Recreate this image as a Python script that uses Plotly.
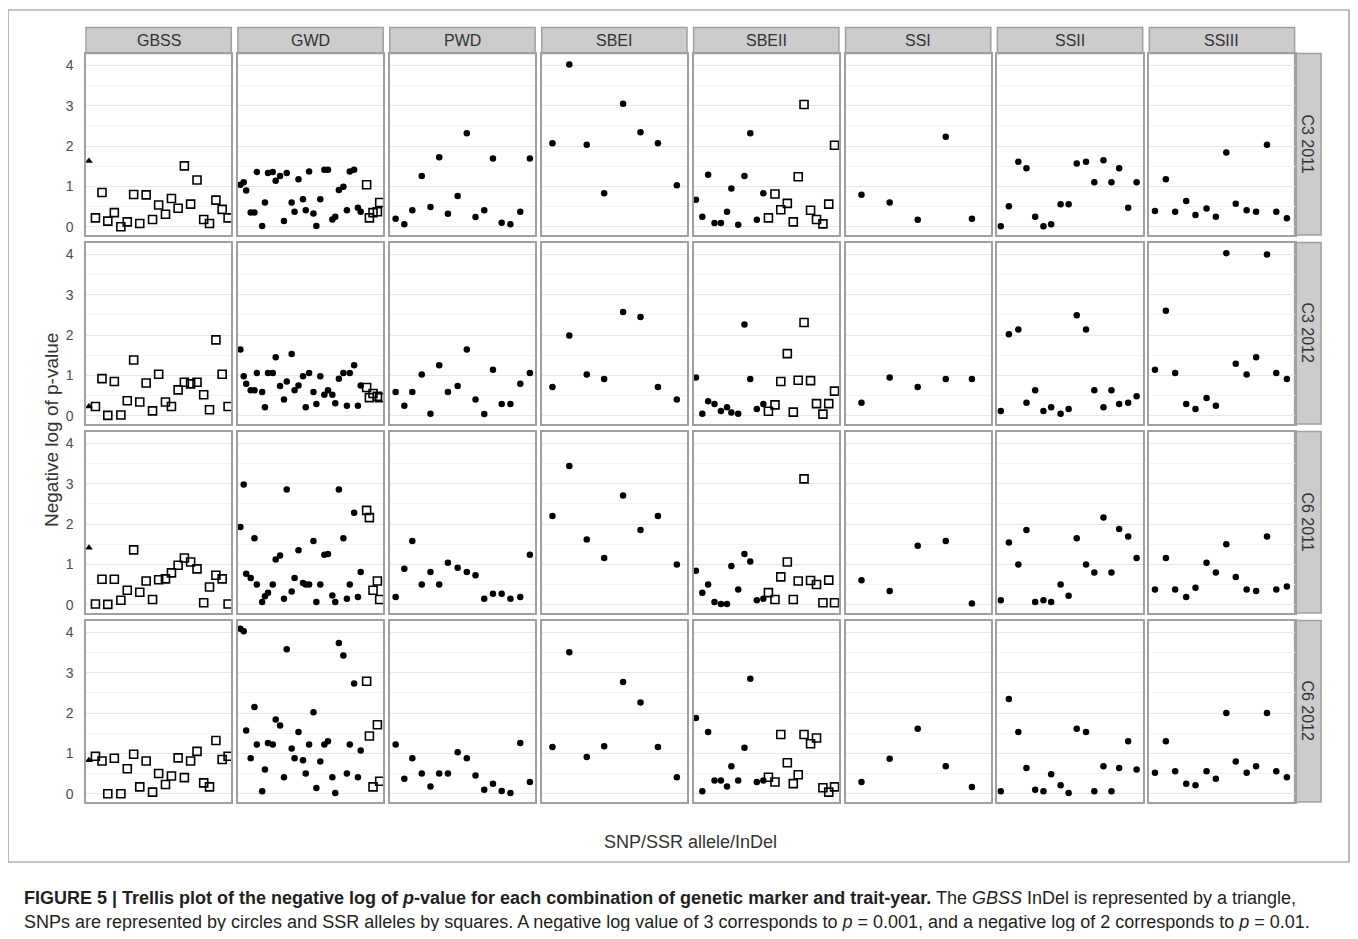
import plotly.graph_objects as go

# ---------------- data ----------------
genes = ["GBSS", "GWD", "PWD", "SBEI", "SBEII", "SSI", "SSII", "SSIII"]
trait_years = ["C3 2011", "C3 2012", "C6 2011", "C6 2012"]

# relative marker position along each gene (0-100 across the panel)
GBSS_pos = [2, 6.5, 11, 15, 19.5, 24, 28.4, 32.8, 37, 41.4, 45.8, 50, 54.7, 58.8, 63.4, 67.7, 72, 76.4, 81, 85, 89.4, 93.7, 97.8]
GWD_pos = [1.7, 4, 5.7, 8.8, 11.4, 13, 16.7, 18.6, 20.7, 24, 26, 29, 31.7, 33.6, 37, 39, 41.7, 44.8, 46.7, 49, 52, 54, 56.7,
           59.5, 62, 65, 67, 69.5, 72.6, 75, 77, 80, 82.6, 84.5, 88.6, 90.5, 93, 96, 97.6]
PWD_pos = [4, 10, 15.5, 22, 28, 34, 40, 46.7, 53, 59, 65, 71, 77, 83, 89.8, 96.4]
SBEI_pos = [7.4, 19, 31, 43, 56, 68, 80, 93]
SBEII_pos = [1.6, 6, 10, 14.4, 18.8, 23, 26, 30.7, 35, 39, 43.5, 48, 51.5, 56, 60, 64.5, 68.6, 72, 76, 80.5, 84.6, 89, 93, 97]
SSI_pos = [11, 30.4, 49.7, 69, 87]
SSII_pos = [2.3, 7.9, 14.4, 20, 26, 31.7, 37, 43.5, 49, 54.6, 61, 66.7, 73, 78.5, 83.8, 90, 95.8]
SSIII_pos = [3.9, 11.4, 17.8, 25.4, 31.8, 39.4, 45.8, 53, 59.5, 67, 73.5, 81, 87.4, 94.7]

# marker type of each position: InDel (triangle), SNP (circle), SSR (square)
GBSS_type = ["InDel"] + ["SSR"] * 22
GWD_type = ["SNP"] * 34 + ["SSR"] * 5
PWD_type = ["SNP"] * 16
SBEI_type = ["SNP"] * 8
SBEII_type = ["SNP"] * 12 + ["SSR"] * 12
SSI_type = ["SNP"] * 5
SSII_type = ["SNP"] * 17
SSIII_type = ["SNP"] * 14

# negative log p-values
GBSS_C3_2011 = [1.63, 0.22, 0.85, 0.14, 0.35, 0.00, 0.12, 0.80, 0.08, 0.79, 0.18, 0.54, 0.31, 0.70, 0.46, 1.51, 0.56, 1.16, 0.18, 0.08, 0.66, 0.43, 0.22]
GBSS_C3_2012 = [0.23, 0.23, 0.92, 0.01, 0.85, 0.02, 0.37, 1.38, 0.34, 0.81, 0.12, 1.03, 0.34, 0.23, 0.64, 0.83, 0.79, 0.83, 0.52, 0.15, 1.88, 1.03, 0.23]
GBSS_C6_2011 = [1.41, 0.02, 0.63, 0.01, 0.63, 0.11, 0.36, 1.36, 0.31, 0.59, 0.13, 0.62, 0.64, 0.79, 0.98, 1.16, 1.06, 0.89, 0.05, 0.44, 0.73, 0.64, 0.02]
GBSS_C6_2012 = [0.83, 0.93, 0.81, 0.00, 0.88, 0.00, 0.62, 0.98, 0.17, 0.81, 0.04, 0.50, 0.23, 0.44, 0.89, 0.40, 0.81, 1.05, 0.27, 0.17, 1.32, 0.85, 0.93]

GWD_C3_2011 = [1.04, 1.10, 0.90, 0.35, 0.35, 1.36, 0.02, 0.60, 1.33, 1.36, 1.14, 1.26, 0.14, 1.33, 0.60, 0.37, 1.18, 0.68, 0.41, 1.37,
               0.33, 0.02, 0.68, 1.41, 1.41, 0.18, 0.25, 0.91, 0.99, 0.41, 1.37, 1.41, 0.47, 0.37, 1.04, 0.22, 0.35, 0.37, 0.60]
GWD_C3_2012 = [1.64, 0.98, 0.79, 0.63, 0.63, 1.06, 0.59, 0.21, 1.06, 1.06, 1.45, 0.74, 0.40, 0.85, 1.53, 0.63, 0.75, 0.98, 0.21, 1.06,
               0.59, 0.29, 0.98, 0.52, 0.63, 0.52, 0.31, 0.92, 1.06, 0.25, 1.06, 1.25, 0.25, 0.75, 0.70, 0.45, 0.55, 0.48, 0.45]
GWD_C6_2011 = [1.93, 2.98, 0.77, 0.66, 1.65, 0.50, 0.07, 0.21, 0.30, 0.50, 1.12, 1.22, 0.15, 2.86, 0.33, 0.66, 1.35, 0.54, 0.50, 0.50,
               1.58, 0.07, 0.50, 1.24, 1.26, 0.23, 0.07, 2.86, 1.65, 0.15, 0.50, 2.28, 0.19, 0.81, 2.34, 2.16, 0.36, 0.59, 0.13]
GWD_C6_2012 = [4.09, 4.03, 1.57, 0.88, 2.15, 1.22, 0.06, 0.60, 1.26, 1.22, 1.84, 1.69, 0.41, 3.58, 1.12, 0.88, 1.53, 0.83, 0.50, 1.22,
               2.02, 0.14, 0.80, 1.22, 1.30, 0.41, 0.02, 3.74, 3.43, 0.50, 1.22, 2.73, 0.41, 1.07, 2.79, 1.43, 0.17, 1.71, 0.31]

PWD_C3_2011 = [0.20, 0.06, 0.41, 1.26, 0.49, 1.72, 0.32, 0.76, 2.32, 0.24, 0.41, 1.69, 0.10, 0.06, 0.37, 1.69]
PWD_C3_2012 = [0.59, 0.25, 0.59, 1.02, 0.05, 1.25, 0.59, 0.74, 1.64, 0.40, 0.04, 1.14, 0.29, 0.29, 0.79, 1.06]
PWD_C6_2011 = [0.19, 0.89, 1.58, 0.50, 0.81, 0.50, 1.04, 0.92, 0.81, 0.73, 0.15, 0.27, 0.27, 0.15, 0.19, 1.24]
PWD_C6_2012 = [1.22, 0.37, 0.88, 0.50, 0.18, 0.50, 0.50, 1.03, 0.88, 0.45, 0.10, 0.25, 0.07, 0.02, 1.26, 0.29]

SBEI_C3_2011 = [2.07, 4.02, 2.03, 0.83, 3.05, 2.34, 2.07, 1.03]
SBEI_C3_2012 = [0.71, 1.99, 1.02, 0.91, 2.57, 2.45, 0.71, 0.40]
SBEI_C6_2011 = [2.20, 3.44, 1.62, 1.16, 2.71, 1.85, 2.20, 1.00]
SBEI_C6_2012 = [1.16, 3.51, 0.91, 1.18, 2.77, 2.26, 1.16, 0.41]

SBEII_C3_2011 = [0.67, 0.25, 1.29, 0.09, 0.09, 0.37, 0.95, 0.05, 1.26, 2.32, 0.17, 0.83, 0.22, 0.81, 0.42, 0.58, 0.12, 1.24, 3.03, 0.41, 0.18, 0.07, 0.56, 2.02]
SBEII_C3_2012 = [0.95, 0.05, 0.36, 0.29, 0.12, 0.21, 0.08, 0.05, 2.26, 0.91, 0.17, 0.29, 0.11, 0.27, 0.85, 1.54, 0.09, 0.88, 2.31, 0.87, 0.30, 0.04, 0.30, 0.61]
SBEII_C6_2011 = [0.84, 0.30, 0.50, 0.07, 0.02, 0.02, 0.96, 0.38, 1.26, 1.07, 0.11, 0.15, 0.30, 0.13, 0.69, 1.06, 0.13, 0.59, 3.12, 0.60, 0.50, 0.05, 0.61, 0.05]
SBEII_C6_2012 = [1.88, 0.06, 1.53, 0.33, 0.33, 0.18, 0.68, 0.33, 1.14, 2.85, 0.29, 0.33, 0.41, 0.29, 1.47, 0.77, 0.25, 0.47, 1.47, 1.24, 1.38, 0.15, 0.04, 0.17]

SSI_C3_2011 = [0.79, 0.60, 0.17, 2.23, 0.20]
SSI_C3_2012 = [0.32, 0.95, 0.71, 0.91, 0.91]
SSI_C6_2011 = [0.61, 0.34, 1.46, 1.58, 0.03]
SSI_C6_2012 = [0.29, 0.87, 1.61, 0.68, 0.17]

SSII_C3_2011 = [0.01, 0.51, 1.61, 1.45, 0.25, 0.01, 0.06, 0.56, 0.56, 1.57, 1.61, 1.10, 1.65, 1.10, 1.45, 0.47, 1.10]
SSII_C3_2012 = [0.12, 2.02, 2.14, 0.32, 0.63, 0.12, 0.21, 0.05, 0.17, 2.49, 2.14, 0.63, 0.21, 0.63, 0.29, 0.32, 0.48]
SSII_C6_2011 = [0.11, 1.54, 1.00, 1.85, 0.07, 0.11, 0.07, 0.50, 0.22, 1.65, 1.00, 0.80, 2.16, 0.80, 1.88, 1.69, 1.16]
SSII_C6_2012 = [0.06, 2.35, 1.53, 0.64, 0.10, 0.06, 0.48, 0.21, 0.02, 1.61, 1.53, 0.06, 0.68, 0.06, 0.64, 1.30, 0.60]

SSIII_C3_2011 = [0.39, 1.18, 0.37, 0.64, 0.29, 0.45, 0.25, 1.84, 0.57, 0.41, 0.37, 2.03, 0.37, 0.21]
SSIII_C3_2012 = [1.14, 2.60, 1.06, 0.29, 0.17, 0.44, 0.25, 4.03, 1.29, 1.02, 1.45, 4.00, 1.06, 0.91]
SSIII_C6_2011 = [0.38, 1.16, 0.38, 0.19, 0.42, 1.04, 0.80, 1.50, 0.69, 0.38, 0.34, 1.69, 0.38, 0.45]
SSIII_C6_2012 = [0.52, 1.30, 0.56, 0.25, 0.21, 0.56, 0.37, 2.00, 0.80, 0.52, 0.68, 2.00, 0.56, 0.41]

y_ticks = [0, 1, 2, 3, 4]

positions = {"GBSS": GBSS_pos, "GWD": GWD_pos, "PWD": PWD_pos, "SBEI": SBEI_pos,
             "SBEII": SBEII_pos, "SSI": SSI_pos, "SSII": SSII_pos, "SSIII": SSIII_pos}
types = {"GBSS": GBSS_type, "GWD": GWD_type, "PWD": PWD_type, "SBEI": SBEI_type,
         "SBEII": SBEII_type, "SSI": SSI_type, "SSII": SSII_type, "SSIII": SSIII_type}
values = {
    "GBSS": [GBSS_C3_2011, GBSS_C3_2012, GBSS_C6_2011, GBSS_C6_2012],
    "GWD": [GWD_C3_2011, GWD_C3_2012, GWD_C6_2011, GWD_C6_2012],
    "PWD": [PWD_C3_2011, PWD_C3_2012, PWD_C6_2011, PWD_C6_2012],
    "SBEI": [SBEI_C3_2011, SBEI_C3_2012, SBEI_C6_2011, SBEI_C6_2012],
    "SBEII": [SBEII_C3_2011, SBEII_C3_2012, SBEII_C6_2011, SBEII_C6_2012],
    "SSI": [SSI_C3_2011, SSI_C3_2012, SSI_C6_2011, SSI_C6_2012],
    "SSII": [SSII_C3_2011, SSII_C3_2012, SSII_C6_2011, SSII_C6_2012],
    "SSIII": [SSIII_C3_2011, SSIII_C3_2012, SSIII_C6_2011, SSIII_C6_2012],
}

# ---------------- layout geometry (page pixels) ----------------
OFF = 8           # default body margin of the html page
PW, PH = 1342, 923
FONT = "Liberation Sans, Arial, sans-serif"


def fx(X):
    return (X - OFF) / PW


def fy(Y):
    return 1 - (Y - OFF) / PH


COL_L0, COL_PITCH, COL_W = 86.0, 151.9, 145.3
ROW_T0, ROW_PITCH, ROW_H = 53.5, 189.0, 181.5
STRIP_H = 26.0
RSTRIP_W = 26.5

marker_style = {
    "SNP": dict(symbol="circle", size=6.5, color="black", line=dict(width=0)),
    "SSR": dict(symbol="square-open", size=8, color="black", line=dict(width=1.6, color="black")),
    "InDel": dict(symbol="triangle-up", size=7, color="black", line=dict(width=0)),
}

fig = go.Figure()
layout = dict()
shapes = []
annotations = []

for r, ty in enumerate(trait_years):
    top = ROW_T0 + r * ROW_PITCH
    bot = top + ROW_H
    for c, g in enumerate(genes):
        k = r * 8 + c + 1
        left = COL_L0 + c * COL_PITCH
        right = left + COL_W
        xa = "x" if k == 1 else f"x{k}"
        ya = "y" if k == 1 else f"y{k}"
        pos = positions[g]
        typ = types[g]
        vals = values[g][r]
        for mt in ["SNP", "SSR", "InDel"]:
            xs = [p for p, t in zip(pos, typ) if t == mt]
            ys = [v for v, t in zip(vals, typ) if t == mt]
            if not xs:
                continue
            fig.add_trace(go.Scatter(x=xs, y=ys, mode="markers", marker=marker_style[mt],
                                     xaxis=xa, yaxis=ya, showlegend=False, hoverinfo="x+y"))
        layout["xaxis" if k == 1 else f"xaxis{k}"] = dict(
            domain=[fx(left), fx(right)], range=[0, 100], anchor=ya,
            showticklabels=False, showgrid=False, zeroline=False, ticks="",
            showline=True, mirror=True, linecolor="#a0a0a0", linewidth=1.5,
        )
        layout["yaxis" if k == 1 else f"yaxis{k}"] = dict(
            domain=[fy(bot), fy(top)], range=[-0.205, 4.295], anchor=xa,
            tickvals=y_ticks, showticklabels=(c == 0), ticks="",
            ticklabelstandoff=8,
            tickfont=dict(family=FONT, size=14, color="#4d4d4d"),
            showgrid=True, gridcolor="#e6e6e6", gridwidth=1.2, zeroline=False,
            minor=dict(tickvals=[0.5, 1.5, 2.5, 3.5], showgrid=True, gridcolor="#f3f3f3", gridwidth=1),
            showline=True, mirror=True, linecolor="#a0a0a0", linewidth=1.5,
        )
        # top strips
        if r == 0:
            shapes.append(dict(type="rect", xref="paper", yref="paper",
                               x0=fx(left), x1=fx(right), y0=fy(top), y1=fy(top - STRIP_H),
                               fillcolor="#cccccc", line=dict(color="#a0a0a0", width=1.5), layer="below"))
            annotations.append(dict(text=g, xref="paper", yref="paper", x=fx((left + right) / 2),
                                    y=fy(top - STRIP_H / 2), showarrow=False, xanchor="center", yanchor="middle",
                                    font=dict(family=FONT, size=16, color="#333333")))
    # right strips
    sl = COL_L0 + 7 * COL_PITCH + COL_W
    shapes.append(dict(type="rect", xref="paper", yref="paper",
                       x0=fx(sl), x1=fx(sl + RSTRIP_W), y0=fy(bot), y1=fy(top),
                       fillcolor="#cccccc", line=dict(color="#a0a0a0", width=1.5), layer="below"))
    annotations.append(dict(text=ty, xref="paper", yref="paper", x=fx(sl + RSTRIP_W / 2),
                            y=fy((top + bot) / 2), showarrow=False, textangle=90,
                            xanchor="center", yanchor="middle",
                            font=dict(family=FONT, size=16, color="#333333")))

# outer frame around the chart
shapes.append(dict(type="rect", xref="paper", yref="paper", x0=fx(8), x1=fx(1349), y0=fy(862), y1=fy(10),
                   line=dict(color="#8c8c8c", width=1.2), fillcolor="rgba(0,0,0,0)", layer="below"))

# axis titles
annotations.append(dict(text="Negative log of p-value", xref="paper", yref="paper", x=fx(51),
                        y=fy(430), textangle=-90, showarrow=False,
                        xanchor="center", yanchor="middle", font=dict(family=FONT, size=19, color="#333333")))
annotations.append(dict(text="SNP/SSR allele/InDel", xref="paper", yref="paper",
                        x=fx((COL_L0 + COL_L0 + 7 * COL_PITCH + COL_W) / 2), y=fy(842), showarrow=False,
                        xanchor="center", yanchor="middle", font=dict(family=FONT, size=18, color="#333333")))

# caption
cap1 = ("<b>FIGURE 5 | Trellis plot of the negative log of <i>p</i>-value for each combination of genetic marker "
        "and trait-year.</b> The <i>GBSS</i> InDel is represented by a triangle,")
cap2 = ("SNPs are represented by circles and SSR alleles by squares. A negative log value of 3 corresponds to "
        "<i>p</i> = 0.001, and a negative log of 2 corresponds to <i>p</i> = 0.01.")
annotations.append(dict(text=cap1, xref="paper", yref="paper", x=fx(22), y=fy(898), showarrow=False,
                        xanchor="left", yanchor="middle", font=dict(family=FONT, size=18, color="#231f20")))
annotations.append(dict(text=cap2, xref="paper", yref="paper", x=fx(22), y=fy(922), showarrow=False,
                        xanchor="left", yanchor="middle", font=dict(family=FONT, size=18, color="#231f20")))

fig.update_layout(
    width=PW, height=PH, autosize=False,
    margin=dict(l=0, r=0, t=0, b=0),
    paper_bgcolor="white", plot_bgcolor="white",
    shapes=shapes, annotations=annotations, showlegend=False,
    **layout,
)

fig.write_html("out.html")
